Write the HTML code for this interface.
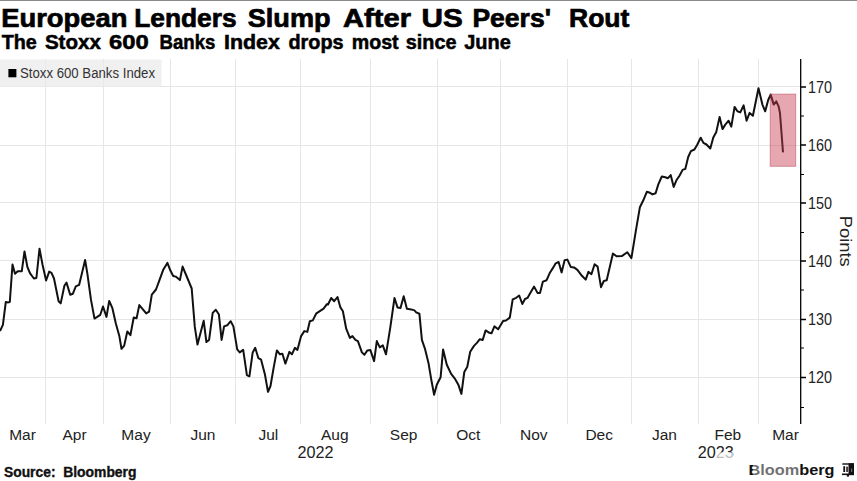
<!DOCTYPE html>
<html><head><meta charset="utf-8">
<style>
html,body{margin:0;padding:0;background:#fff;width:857px;height:481px;overflow:hidden}
svg{display:block}
text{font-family:"Liberation Sans",sans-serif}
</style></head>
<body>
<svg width="857" height="481" viewBox="0 0 857 481">
<rect x="0" y="0" width="857" height="1" fill="#8a8a8a"/>
<!--TITLE-->
<g font-weight="bold" fill="#000" font-size="26.5" stroke="#000" stroke-width="0.7">
<text x="1.2" y="26.6" textLength="126.2" lengthAdjust="spacingAndGlyphs">European</text>
<text x="134.2" y="26.6" textLength="102.4" lengthAdjust="spacingAndGlyphs">Lenders</text>
<text x="247.7" y="26.6" textLength="83.0" lengthAdjust="spacingAndGlyphs">Slump</text>
<text x="343.1" y="26.6" textLength="67.9" lengthAdjust="spacingAndGlyphs">After</text>
<text x="421.5" y="26.6" textLength="41.3" lengthAdjust="spacingAndGlyphs">US</text>
<text x="472.4" y="26.6" textLength="78.6" lengthAdjust="spacingAndGlyphs">Peers'</text>
<text x="569.0" y="26.6" textLength="60.4" lengthAdjust="spacingAndGlyphs">Rout</text>
</g>
<g font-weight="bold" fill="#000" font-size="19.3" stroke="#000" stroke-width="0.5">
<text x="1.7" y="49" textLength="35.1" lengthAdjust="spacingAndGlyphs">The</text>
<text x="44.9" y="49" textLength="56.0" lengthAdjust="spacingAndGlyphs">Stoxx</text>
<text x="109.1" y="49" textLength="39.7" lengthAdjust="spacingAndGlyphs">600</text>
<text x="159.6" y="49" textLength="55.8" lengthAdjust="spacingAndGlyphs">Banks</text>
<text x="224.0" y="49" textLength="55.8" lengthAdjust="spacingAndGlyphs">Index</text>
<text x="288.4" y="49" textLength="55.2" lengthAdjust="spacingAndGlyphs">drops</text>
<text x="351.7" y="49" textLength="46.9" lengthAdjust="spacingAndGlyphs">most</text>
<text x="405.8" y="49" textLength="50.7" lengthAdjust="spacingAndGlyphs">since</text>
<text x="464.2" y="49" textLength="46.6" lengthAdjust="spacingAndGlyphs">June</text>
</g>
<!--/TITLE-->

<g id="grid" stroke="#e6e6e6" stroke-width="1" fill="none">
<path d="M0 86.5H800M0 145.5H800M0 202.5H800M0 260.5H800M0 319.5H800M0 377.5H800"/>
<path d="M45.5 59V424M103.5 59V424M170.5 59V424M235.5 59V424M300.5 59V424M370.5 59V424M437.5 59V424M500.5 59V424M567.5 59V424M631.5 59V424M698.5 59V424M758.5 59V424"/>
</g>

<rect x="0" y="59.5" width="161.5" height="27.5" fill="#e9e9e9" fill-opacity="0.7"/>
<rect x="8.4" y="69" width="8" height="8.3" fill="#000"/>
<text x="20" y="78.4" font-size="14" fill="#333" textLength="135" lengthAdjust="spacingAndGlyphs">Stoxx 600 Banks Index</text>

<g id="axis" stroke="#000" fill="none">
<path d="M800.7 59V424" stroke-width="1.3"/>
<path d="M800.7 87H806M800.7 145H806M800.7 203H806M800.7 261H806M800.7 319.5H806M800.7 377.5H806" stroke-width="1.6"/>
<path d="M800.7 116H804M800.7 174.5H804M800.7 232.5H804M800.7 290H804M800.7 348H804M800.7 407.5H804" stroke-width="1"/>
</g>
<g font-size="17" fill="#222">
<text x="808" y="92.6" textLength="24" lengthAdjust="spacingAndGlyphs">170</text>
<text x="808" y="150.6" textLength="24" lengthAdjust="spacingAndGlyphs">160</text>
<text x="808" y="208.6" textLength="24" lengthAdjust="spacingAndGlyphs">150</text>
<text x="808" y="266.6" textLength="24" lengthAdjust="spacingAndGlyphs">140</text>
<text x="808" y="325.1" textLength="24" lengthAdjust="spacingAndGlyphs">130</text>
<text x="808" y="383.1" textLength="24" lengthAdjust="spacingAndGlyphs">120</text>
</g>
<text transform="translate(840.3,241.3) rotate(90)" text-anchor="middle" font-size="17" fill="#222" textLength="51" lengthAdjust="spacingAndGlyphs">Points</text>

<g font-size="15.5" fill="#222" text-anchor="middle">
<text x="22.5" y="439.8">Mar</text>
<text x="74.6" y="439.8">Apr</text>
<text x="136" y="439.8">May</text>
<text x="203" y="439.8">Jun</text>
<text x="268.4" y="439.8">Jul</text>
<text x="334.8" y="439.8">Aug</text>
<text x="403.6" y="439.8">Sep</text>
<text x="468.3" y="439.8">Oct</text>
<text x="533.8" y="439.8">Nov</text>
<text x="599.2" y="439.8">Dec</text>
<text x="664.5" y="439.8">Jan</text>
<text x="727.9" y="439.8">Feb</text>
<text x="785.5" y="439.8">Mar</text>
<text x="315.5" y="457.8" font-size="16.2">2022</text>
<text x="715.8" y="457.8" font-size="16.2">2023</text>
</g>

<g font-size="13.8" font-weight="bold" fill="#111" stroke="#111" stroke-width="0.35"><text x="4" y="476.6" textLength="51.5" lengthAdjust="spacingAndGlyphs">Source:</text><text x="63.2" y="476.6" textLength="73.3" lengthAdjust="spacingAndGlyphs">Bloomberg</text></g>
<text x="748.5" y="475.1" font-size="15" font-weight="bold" fill="#111" textLength="86" lengthAdjust="spacingAndGlyphs">Bloomberg</text>
<rect x="753" y="462" width="46" height="14" fill="#fff" fill-opacity="0.4"/>
<rect x="716" y="452.3" width="17" height="6.7" fill="#fff" fill-opacity="0.7"/>
<g fill="#111">
<rect x="842.3" y="463.3" width="11.6" height="1.4"/>
<rect x="842" y="473.5" width="12" height="1.6"/>
<rect x="848.5" y="463.3" width="5.5" height="11.8"/>
<rect x="843.3" y="466.2" width="1.8" height="5.8"/>
<rect x="846.3" y="466.6" width="1.5" height="5.4"/>
<rect x="846.8" y="475" width="2.2" height="1.6"/>
</g>
<rect x="851" y="468.5" width="1.2" height="3.5" fill="#666"/>

<polyline id="line" fill="none" stroke="#111" stroke-width="2" stroke-linejoin="round" points="0,331 2.9,324.8 5.8,302 8.3,302.4 9.8,302 12.5,264.5 15,273.7 17.7,271.2 21.8,271.2 24.5,251.4 27.4,267 30.1,273.3 33.9,278.5 36.4,278 39.5,248.7 42.6,265 46.1,280.5 49.2,271.6 51.5,272.8 54,278.5 58.6,301.3 60.7,303.4 64.4,285.7 66.5,282.6 70.2,294.7 72.9,293.7 75.8,286.4 79.1,284.9 82,272.9 85.1,260 87.4,273.9 91,299.9 94.5,318.6 97.2,316.9 100.3,314.8 103,306.5 106.5,316.9 109.2,300.9 112.4,308.2 115.9,323.8 119.4,336.3 121.5,348.8 124.2,345.6 127.3,331.5 130.4,335.2 133.7,317.5 136.6,318.2 139.3,305.1 142.9,309.3 146.2,313.4 149.1,311.7 151.8,294.7 156,289.5 159.1,281.2 163.2,269.8 167.4,262.9 170.5,270.8 173.2,276 175.7,276.6 179.9,280.1 182.6,266.6 186.1,275 191.7,288.5 194.8,326.9 197.5,344.6 203.7,320.8 206.4,342 209.1,339.9 212.7,312.9 215.8,309.8 218.9,314.5 221.6,339.9 224.1,326.4 227.2,325.3 230.7,321.2 233.4,326.4 237.2,349.3 239.7,352.4 243.2,349.9 246.9,375.2 249.4,376.3 252.7,352.4 255.2,347.8 258.4,358.2 261.1,359.7 265,374.8 268,391.8 270.5,386 273.7,367.3 276.9,350.4 279.9,354.3 282.4,353.8 285.4,363.6 289.4,351.9 291.9,354.3 294.9,347.9 297.4,349.9 301.1,336.1 304.3,331.1 307.3,331.9 309.8,321.2 312.8,320.4 316.1,313.7 319.8,311.2 323.6,308.7 326.9,304.2 328,304.5 331.2,298 334.2,301.2 337.5,297 340.4,307.4 342.9,311.2 346.2,328.7 349.9,337.9 352.4,336.1 355.4,339.9 357.9,341.1 361.9,352.4 364.4,354.8 367.4,350.4 370.3,349.9 374.1,361.1 376.8,341.1 379.8,347.4 382.8,345.4 386,354.3 390.3,327.4 394.5,298 397.5,307.4 400.5,307.9 403.7,296.2 406.9,308.7 411.2,309.4 414.4,310.4 416.2,312.4 419.4,313.7 421.9,339.9 424.9,348.6 428.6,363.6 431.1,378.6 434.1,394.8 436.8,384.8 440.6,377.3 443.1,349.4 446.8,364.8 451,373.6 454.8,378.6 458.5,385.1 461.4,393.9 464.3,372 467.2,367.1 470.2,351.7 474,345.9 476.9,342.9 479.8,339.2 482.7,340 485.6,330.4 489.4,332.8 491.5,333.3 494.4,326.4 498.2,329.3 503.1,321.1 506,320.5 509.8,317.6 512.7,299.3 516.2,297.8 519.2,295.5 522.3,304 525,299 527.5,297.9 530.3,292.9 534.1,286.6 537.5,292.9 540,292.9 542.9,281.6 546.6,280.2 549.6,273.3 553.3,267.4 555.7,263.3 558.6,262 561.6,272.4 564.6,260.3 567.4,259.6 570.7,266.9 574,267.4 577.4,269.9 581.9,275.8 585.7,279.6 588.4,271.9 591.4,274.2 594.6,264.3 597.6,266.6 601,287.2 603.8,281 606.7,280.3 612.9,253.6 616.6,256.3 622.1,255.9 627.3,252.2 631.4,258.1 635.8,231.2 639.9,207.2 643.3,200.3 646.8,191.8 650,192.8 652.5,194.4 655.6,193.2 658.3,184.4 661.8,176.5 665.3,177.2 668,178.2 670.7,175.1 673.7,186.9 676.4,180.3 679.5,175.7 682.6,169.9 685.3,168.9 688.2,157 690.9,151.2 694.4,149.5 697.1,145 700.7,137.7 703.4,142.9 706.5,144.5 710.3,148.5 713.3,137.4 716.3,131.9 719.6,116.9 722.5,129.1 725.3,124.6 728.6,120.7 731.3,126.6 734.6,106.9 737.4,111.3 740.3,112.4 743.6,105.3 746.6,120.7 749.6,112.9 752.9,115.8 758.5,88.3 762.4,104.6 765.2,111.3 768.2,100 770.7,94.6 773.7,104.6 776.3,101.3 778.7,106.6 780,113.3 783,152.4"/>
<rect x="770.2" y="94.1" width="25.5" height="72.2" fill="rgb(200,60,80)" fill-opacity="0.45" stroke="rgb(170,50,70)" stroke-opacity="0.45" stroke-width="1"/>
</svg>
</body></html>
